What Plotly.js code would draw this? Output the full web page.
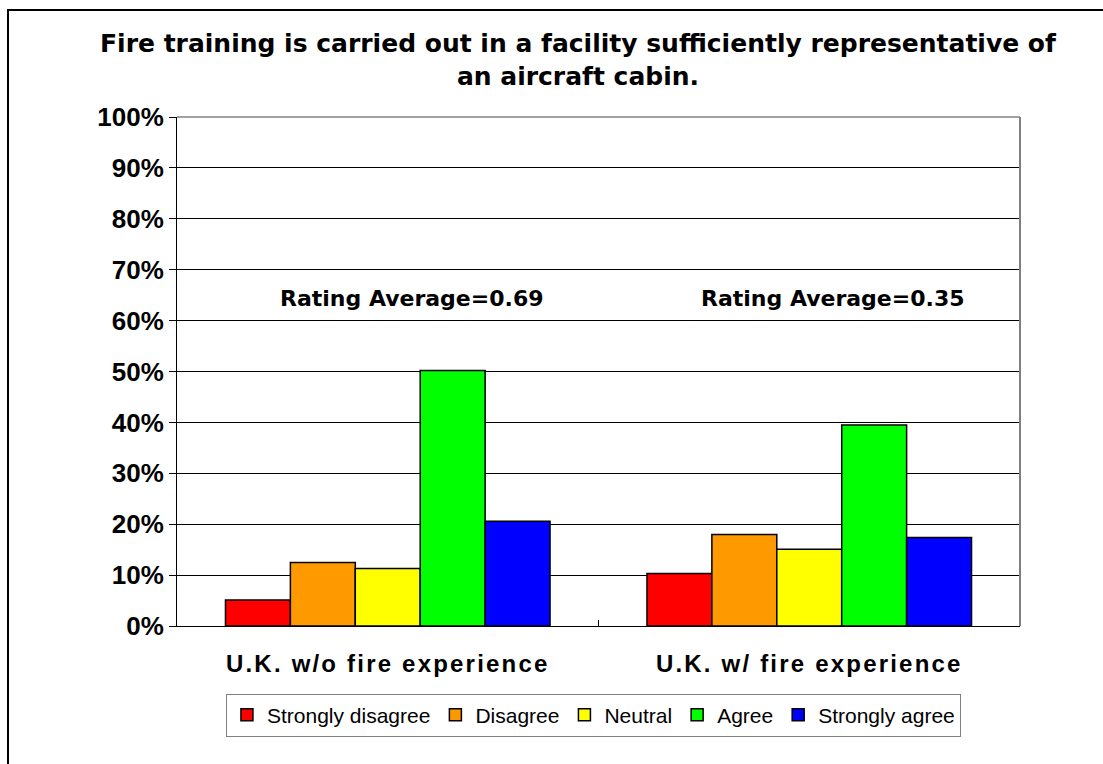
<!DOCTYPE html>
<html>
<head>
<meta charset="utf-8">
<script src="https://cdn.plot.ly/plotly-3.0.1.min.js"></script>
<style>
html,body{margin:0;padding:0;background:#fff;}
#chart{width:1103px;height:764px;}
#chart .xtick text{letter-spacing:2.2px;}
</style>
</head>
<body>
<div id="chart"></div>
<script>
const categories = ['U.K. w/o fire experience', 'U.K. w/ fire experience'];
const seriesNames = ['Strongly disagree', 'Disagree', 'Neutral', 'Agree', 'Strongly agree'];
const seriesColors = ['#ff0000', '#ff9900', '#ffff00', '#00ff00', '#0000ff'];
const stronglyDisagree = [0.051, 0.103];
const disagree = [0.125, 0.180];
const neutral = [0.113, 0.151];
const agree = [0.502, 0.395];
const stronglyAgree = [0.206, 0.174];
const ratingLabels = ['Rating Average=0.69', 'Rating Average=0.35'];
const titleText = 'Fire training is carried out in a facility sufficiently representative of<br>an aircraft cabin.';

const seriesValues = [stronglyDisagree, disagree, neutral, agree, stronglyAgree];
const traces = seriesValues.map((vals, i) => ({
  type: 'bar',
  name: seriesNames[i],
  x: categories,
  y: vals,
  marker: {color: seriesColors[i], line: {color: '#000', width: 1.5}},
  hoverinfo: 'none'
}));

const annotations = ratingLabels.map((t, i) => ({
  x: categories[i], y: 0.643, xref: 'x', yref: 'y', xshift: 24,
  text: t, showarrow: false,
  font: {family: 'DejaVu Sans', size: 22, color: '#000', weight: 'bold'}
}));
annotations.push({
  xref: 'paper', yref: 'paper', x: (578 - 177) / 843, y: (626 - 27) / 509,
  xanchor: 'center', yanchor: 'top', showarrow: false,
  text: titleText,
  font: {family: 'DejaVu Sans', size: 25, color: '#000', weight: 'bold'}
});

const layout = {
  width: 1103, height: 764,
  margin: {l: 177, r: 83, t: 117, b: 138},
  paper_bgcolor: '#fff', plot_bgcolor: '#fff',
  barmode: 'group', bargap: 0.23, bargroupgap: 0,
  showlegend: true,
  legend: {
    orientation: 'h', x: 0.494, xanchor: 'center', y: -0.133, yanchor: 'top',
    bordercolor: '#808080', borderwidth: 1,
    font: {family: 'Liberation Sans, Arial', size: 21, color: '#000'},
    itemwidth: 30, traceorder: 'normal'
  },
  xaxis: {
    type: 'category', showgrid: false, zeroline: false,
    showline: true, linecolor: '#000', linewidth: 1,
    ticks: 'inside', tickson: 'boundaries', ticklen: 6, tickcolor: '#000',
    tickfont: {family: 'Liberation Sans, Arial', size: 24, color: '#000', weight: 'bold'},
    ticklabelstandoff: 16
  },
  yaxis: {
    range: [0, 1], dtick: 0.1, tickformat: '.0%',
    showgrid: true, gridcolor: '#000', gridwidth: 1,
    zeroline: false, showline: true, linecolor: '#000', linewidth: 1,
    ticks: 'outside', ticklen: 7, tickcolor: '#000',
    tickfont: {family: 'Liberation Sans, Arial', size: 26, color: '#000', weight: 'bold'}
  },
  shapes: [
    {type: 'line', xref: 'paper', yref: 'paper', x0: 0, x1: 1, y0: 1, y1: 1, line: {color: '#808080', width: 1.5}},
    {type: 'line', xref: 'paper', yref: 'paper', x0: 1, x1: 1, y0: 0, y1: 1, line: {color: '#808080', width: 2}},
    {type: 'rect', xref: 'paper', yref: 'paper', x0: (8 - 177) / 843, x1: 1.2, y0: -0.4, y1: (626 - 10) / 509, line: {color: '#000', width: 2}}
  ],
  annotations: annotations
};

Plotly.newPlot('chart', traces, layout, {displayModeBar: false, staticPlot: true});
</script>
</body>
</html>
